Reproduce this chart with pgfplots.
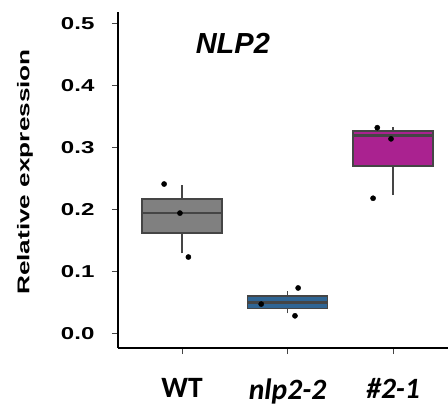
\documentclass[border=0pt]{standalone}
\usepackage{fontspec}
\setmainfont{Liberation Sans}
\newfontfamily\ticksfont[FakeStretch=1.4]{Liberation Sans}
\newfontfamily\ylabfont[FakeStretch=1.54]{Liberation Sans}
\newfontfamily\catfont{Carlito}
\usepackage{pgfplots}
\pgfplotsset{compat=1.18}

\definecolor{wtgray}{HTML}{808080}
\definecolor{mutblue}{HTML}{2F6594}
\definecolor{linemag}{HTML}{AA2290}
\definecolor{edge}{HTML}{454545}

\begin{document}
\begin{tikzpicture}
  \begin{axis}[
      at={(0,0)}, anchor=south west,
      scale only axis,
      width=330pt, height=336pt,
      xmin=0.393, xmax=3.52,
      ymin=-0.024, ymax=0.519,
      axis x line*=bottom, axis y line*=left,
      axis line style={-, line width=1.6pt, black},
      tick align=outside,
      major tick length=6pt,
      tick style={line width=1.1pt, color=edge},
      xtick={1,2,3},
      xticklabels={WT, \textit{nlp2-2}, \textit{\#2-1}},
      xticklabel style={font=\catfont\bfseries\fontsize{29.5}{30}\selectfont, yshift=-21pt},
      ytick={0,0.1,0.2,0.3,0.4,0.5},
      yticklabels={0.0,0.1,0.2,0.3,0.4,0.5},
      yticklabel style={font=\ticksfont\bfseries\fontsize{17.2}{18}\selectfont, xshift=-14pt},
      ylabel={Relative expression},
      every axis y label/.style={at={(axis description cs:-0.282,0.524)},
        rotate=90, anchor=center,
        font=\ylabfont\bfseries\fontsize{17}{18}\selectfont},
      clip=false,
    ]
    % whiskers (lower and upper per genotype)
    \addplot[edge, line width=1.6pt] coordinates {(1,0.129) (1,0.162)};
    \addplot[edge, line width=1.6pt] coordinates {(1,0.217) (1,0.239)};
    \addplot[edge, line width=1.6pt] coordinates {(2,0.032) (2,0.040)};
    \addplot[edge, line width=1.6pt] coordinates {(2,0.060) (2,0.068)};
    \addplot[edge, line width=1.6pt] coordinates {(3,0.223) (3,0.270)};
    \addplot[edge, line width=1.6pt] coordinates {(3,0.327) (3,0.333)};
    % boxes: lower quartile to upper quartile
    \addplot[fill=wtgray, draw=edge, line width=1.6pt] coordinates
      {(0.62,0.162) (1.38,0.162) (1.38,0.217) (0.62,0.217)} -- cycle;
    \addplot[fill=mutblue, draw=edge, line width=1.6pt] coordinates
      {(1.62,0.040) (2.38,0.040) (2.38,0.060) (1.62,0.060)} -- cycle;
    \addplot[fill=linemag, draw=edge, line width=1.6pt] coordinates
      {(2.62,0.270) (3.38,0.270) (3.38,0.327) (2.62,0.327)} -- cycle;
    % medians
    \addplot[edge, line width=2.6pt] coordinates {(0.62,0.194) (1.38,0.194)};
    \addplot[edge, line width=2.6pt] coordinates {(1.62,0.050) (2.38,0.050)};
    \addplot[edge, line width=2.6pt] coordinates {(2.62,0.319) (3.38,0.319)};
    % replicate points
    \addplot[only marks, mark=*, mark size=2.6pt, black] coordinates {
      (0.83, 0.241) (0.98, 0.194) (1.06, 0.123)
      (2.10, 0.073) (1.75, 0.047) (2.07, 0.028)
      (2.85, 0.332) (2.98, 0.314) (2.81, 0.218)
    };
    \node[font=\bfseries\itshape\fontsize{29}{30}\selectfont]
      at (axis description cs:0.348,0.908) {NLP2};
  \end{axis}
  \pgfresetboundingbox
  \path (-118pt,-62pt) rectangle (330pt,348pt);
\end{tikzpicture}
\end{document}
